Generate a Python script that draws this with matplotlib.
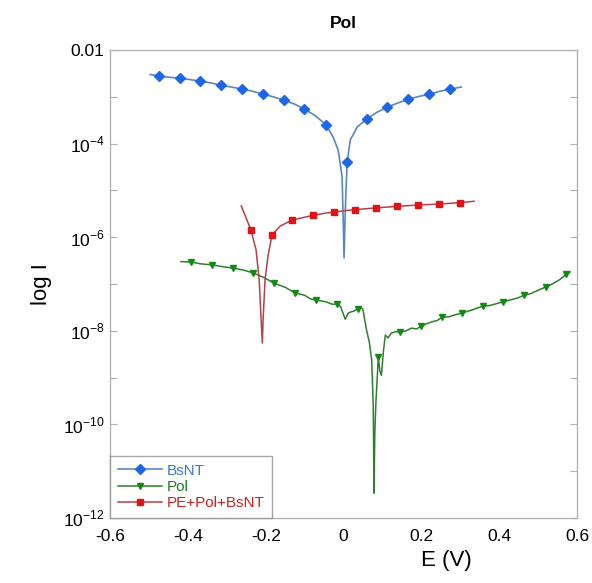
import matplotlib.pyplot as plt
import numpy as np

plt.rcParams['font.family'] = ['Liberation Sans', 'DejaVu Sans']
plt.rcParams['mathtext.fontset'] = 'custom'
plt.rcParams['mathtext.rm'] = 'Liberation Sans'

# BsNT curve: potential (V) and log10 current, marker positions by index
bsnt_E = [-0.497, -0.474, -0.447, -0.420, -0.395, -0.369, -0.342, -0.315, -0.288, -0.261,
          -0.234, -0.207, -0.180, -0.153, -0.127, -0.101, -0.073, -0.045, -0.027, -0.014,
          -0.004, -0.001, 0.001, 0.004, 0.006, 0.009, 0.017, 0.035, 0.060, 0.085,
          0.112, 0.139, 0.166, 0.193, 0.220, 0.247, 0.274, 0.302]
bsnt_logI = [-2.52, -2.556, -2.58, -2.60, -2.63, -2.66, -2.70, -2.75, -2.79, -2.83,
             -2.88, -2.94, -3.00, -3.07, -3.15, -3.26, -3.40, -3.60, -3.86, -4.14,
             -4.71, -5.70, -6.44, -5.50, -5.00, -4.39, -3.92, -3.64, -3.47, -3.33,
             -3.22, -3.13, -3.05, -2.99, -2.94, -2.88, -2.83, -2.79]
bsnt_marks = [1, 3, 5, 7, 9, 11, 13, 15, 17, 25, 28, 30, 32, 34, 36]

# Pol curve
pol_E = [-0.418, -0.392, -0.365, -0.338, -0.310, -0.284, -0.258, -0.233, -0.205, -0.179,
         -0.150, -0.125, -0.100, -0.085, -0.071, -0.045, -0.030, -0.017, -0.008, 0.004,
         0.012, 0.017, 0.025, 0.037, 0.045, 0.050, 0.058, 0.066, 0.072, 0.076,
         0.078, 0.080, 0.083, 0.086, 0.089, 0.093, 0.097, 0.102, 0.107, 0.114,
         0.122, 0.133, 0.145, 0.160, 0.175, 0.187, 0.199, 0.215, 0.230, 0.240,
         0.253, 0.270, 0.285, 0.304, 0.320, 0.338, 0.358, 0.375, 0.392, 0.410,
         0.428, 0.446, 0.464, 0.482, 0.500, 0.520, 0.538, 0.556, 0.572, 0.582]
pol_logI = [-6.52, -6.53, -6.57, -6.59, -6.63, -6.66, -6.70, -6.76, -6.86, -6.98,
            -7.07, -7.19, -7.24, -7.32, -7.34, -7.38, -7.43, -7.43, -7.48, -7.75,
            -7.62, -7.60, -7.58, -7.53, -7.50, -7.56, -7.95, -8.25, -8.62, -9.60,
            -11.47, -10.2, -9.50, -9.05, -8.56, -8.85, -8.95, -8.45, -8.09, -8.15,
            -8.05, -8.02, -8.03, -8.00, -7.94, -7.96, -7.90, -7.84, -7.80, -7.78,
            -7.71, -7.70, -7.66, -7.62, -7.58, -7.53, -7.47, -7.46, -7.42, -7.38,
            -7.34, -7.30, -7.24, -7.20, -7.13, -7.06, -6.99, -6.90, -6.79, -6.74]
pol_marks = [1, 3, 5, 7, 9, 11, 14, 17, 23, 34, 42, 46, 50, 53, 56, 59, 62, 65, 68]

# PE+Pol+BsNT curve
pe_E = [-0.263, -0.238, -0.225, -0.217, -0.212, -0.209, -0.207, -0.202, -0.194, -0.184,
        -0.163, -0.132, -0.105, -0.078, -0.051, -0.024, 0.003, 0.030, 0.057, 0.084,
        0.110, 0.137, 0.164, 0.191, 0.218, 0.245, 0.272, 0.299, 0.335]
pe_logI = [-5.33, -5.85, -6.27, -6.91, -7.77, -8.26, -7.77, -6.91, -6.38, -5.95,
           -5.76, -5.63, -5.58, -5.53, -5.49, -5.46, -5.43, -5.41, -5.39, -5.37,
           -5.355, -5.34, -5.325, -5.31, -5.30, -5.29, -5.275, -5.26, -5.23]
pe_marks = [1, 9, 11, 13, 15, 17, 19, 21, 23, 25, 27]

yticks = [1e-12, 1e-11, 1e-10, 1e-9, 1e-8, 1e-7, 1e-6, 1e-5, 1e-4, 1e-3, 1e-2]
ylabels = [r'$10^{-12}$', '', r'$10^{-10}$', '', r'$10^{-8}$', '', r'$10^{-6}$', '',
           r'$10^{-4}$', '', '0.01']
xticks = [-0.6, -0.4, -0.2, 0, 0.2, 0.4, 0.6]
xlabels = ['-0.6', '-0.4', '-0.2', '0', '0.2', '0.4', '0.6']

fig = plt.figure(figsize=(5.92, 5.83), dpi=100)
ax = fig.add_axes([0.186, 0.1115, 0.789, 0.8025])

ax.plot(bsnt_E, 10 ** np.array(bsnt_logI), color='#5a86c4', lw=1.2,
        marker='D', ms=5, mfc='#1f66e5', mec='#1f66e5', markevery=bsnt_marks,
        label='BsNT')
ax.plot(pol_E, 10 ** np.array(pol_logI), color='#2f7d2f', lw=1.1,
        marker='v', ms=5, mfc='#128a12', mec='#128a12', markevery=pol_marks,
        label='Pol')
ax.plot(pe_E, 10 ** np.array(pe_logI), color='#b3404a', lw=1.1,
        marker='s', ms=5, mfc='#e01414', mec='#e01414', markevery=pe_marks,
        label='PE+Pol+BsNT')

ax.set_yscale('log')
ax.set_xlim(-0.6, 0.6)
ax.set_ylim(1e-12, 1e-2)
ax.set_yticks(yticks)
ax.set_yticklabels(ylabels)
ax.yaxis.set_minor_locator(plt.NullLocator())
ax.set_xticks(xticks)
ax.set_xticklabels(xlabels)
ax.tick_params(axis='y', direction='in', length=5, color='#b0b0b0', right=True,
               labelsize=12.5, pad=4)
ax.tick_params(axis='x', length=0, labelsize=12.5, pad=8)
for s in ax.spines.values():
    s.set_color('#b4b4b4')
    s.set_linewidth(1.0)

ax.set_xlabel('E (V)', fontsize=16, labelpad=4, x=0.72)
ax.set_ylabel('log I', fontsize=16, labelpad=8)
ax.set_title('Pol', fontsize=12.5, fontweight='bold', pad=16)

leg = ax.legend(loc='lower left', borderaxespad=0, fontsize=11, frameon=True,
                fancybox=False, edgecolor='#909090', handlelength=2.9,
                handletextpad=0.3, labelspacing=0.15, borderpad=0.5)
leg.get_frame().set_linewidth(1.0)
for txt, c in zip(leg.get_texts(), ['#3a78d0', '#1a7f1a', '#d02020']):
    txt.set_color(c)

fig.savefig('out.png', dpi=100)
